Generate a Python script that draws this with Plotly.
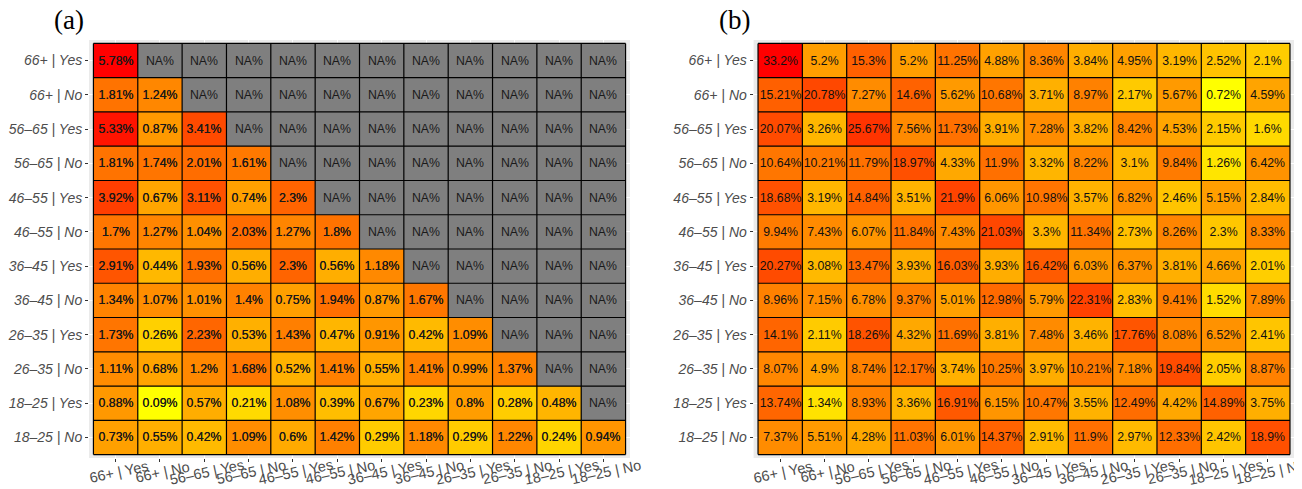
import numpy as np
import plotly.graph_objects as go

categories = ["66+ | Yes", "66+ | No", "56–65 | Yes", "56–65 | No", "46–55 | Yes", "46–55 | No",
              "36–45 | Yes", "36–45 | No", "26–35 | Yes", "26–35 | No", "18–25 | Yes", "18–25 | No"]

# rows top -> bottom follow the category order, columns left -> right too
values_a = [
    [5.78, None, None, None, None, None, None, None, None, None, None, None],
    [1.81, 1.24, None, None, None, None, None, None, None, None, None, None],
    [5.33, 0.87, 3.41, None, None, None, None, None, None, None, None, None],
    [1.81, 1.74, 2.01, 1.61, None, None, None, None, None, None, None, None],
    [3.92, 0.67, 3.11, 0.74, 2.3, None, None, None, None, None, None, None],
    [1.7, 1.27, 1.04, 2.03, 1.27, 1.8, None, None, None, None, None, None],
    [2.91, 0.44, 1.93, 0.56, 2.3, 0.56, 1.18, None, None, None, None, None],
    [1.34, 1.07, 1.01, 1.4, 0.75, 1.94, 0.87, 1.67, None, None, None, None],
    [1.73, 0.26, 2.23, 0.53, 1.43, 0.47, 0.91, 0.42, 1.09, None, None, None],
    [1.11, 0.68, 1.2, 1.68, 0.52, 1.41, 0.55, 1.41, 0.99, 1.37, None, None],
    [0.88, 0.09, 0.57, 0.21, 1.08, 0.39, 0.67, 0.23, 0.8, 0.28, 0.48, None],
    [0.73, 0.55, 0.42, 1.09, 0.6, 1.42, 0.29, 1.18, 0.29, 1.22, 0.24, 0.94],
]

values_b = [
    [33.2, 5.2, 15.3, 5.2, 11.25, 4.88, 8.36, 3.84, 4.95, 3.19, 2.52, 2.1],
    [15.21, 20.78, 7.27, 14.6, 5.62, 10.68, 3.71, 8.97, 2.17, 5.67, 0.72, 4.59],
    [20.07, 3.26, 25.67, 7.56, 11.73, 3.91, 7.28, 3.82, 8.42, 4.53, 2.15, 1.6],
    [10.64, 10.21, 11.79, 18.97, 4.33, 11.9, 3.32, 8.22, 3.1, 9.84, 1.26, 6.42],
    [18.68, 3.19, 14.84, 3.51, 21.9, 6.06, 10.98, 3.57, 6.82, 2.46, 5.15, 2.84],
    [9.94, 7.43, 6.07, 11.84, 7.43, 21.03, 3.3, 11.34, 2.73, 8.26, 2.3, 8.33],
    [20.27, 3.08, 13.47, 3.93, 16.03, 3.93, 16.42, 6.03, 6.37, 3.81, 4.66, 2.01],
    [8.96, 7.15, 6.78, 9.37, 5.01, 12.98, 5.79, 22.31, 2.83, 9.41, 1.52, 7.89],
    [14.1, 2.11, 18.26, 4.32, 11.69, 3.81, 7.48, 3.46, 17.76, 8.08, 6.52, 2.41],
    [8.07, 4.9, 8.74, 12.17, 3.74, 10.25, 3.97, 10.21, 7.18, 19.84, 2.05, 8.87],
    [13.74, 1.34, 8.93, 3.36, 16.91, 6.15, 10.47, 3.55, 12.49, 4.42, 14.89, 3.75],
    [7.37, 5.51, 4.28, 11.03, 6.01, 14.37, 2.91, 11.9, 2.97, 12.33, 2.42, 18.9],
]

panel_titles = ["(a)", "(b)"]

# the page body adds an 8px margin, so the figure is 8px smaller and positions are shifted
OFF = 8
W, H = 1302 - OFF, 489 - OFF


def px_x(v):
    return (v - OFF) / W


def px_y(v):
    return 1 - (v - OFF) / H


# ---------- yellow -> red gradient interpolated in CIELAB (like ggplot) ----------
def srgb_to_lab(rgb):
    c = np.array(rgb, dtype=float) / 255.0
    c = np.where(c <= 0.04045, c / 12.92, ((c + 0.055) / 1.055) ** 2.4)
    M = np.array([[0.4124, 0.3576, 0.1805], [0.2126, 0.7152, 0.0722], [0.0193, 0.1192, 0.9505]])
    xyz = M @ c
    xyz = xyz / np.array([0.95047, 1.0, 1.08883])
    f = np.where(xyz > 0.008856, np.cbrt(xyz), 7.787 * xyz + 16 / 116)
    return np.array([116 * f[1] - 16, 500 * (f[0] - f[1]), 200 * (f[1] - f[2])])


def lab_to_srgb(lab):
    L, a, b = lab
    fy = (L + 16) / 116
    fx = fy + a / 500
    fz = fy - b / 200
    f = np.array([fx, fy, fz])
    xyz = np.where(f > 0.2069, f ** 3, (f - 16 / 116) / 7.787)
    xyz = xyz * np.array([0.95047, 1.0, 1.08883])
    Minv = np.array([[3.2406, -1.5372, -0.4986], [-0.9689, 1.8758, 0.0415], [0.0557, -0.2040, 1.0570]])
    c = Minv @ xyz
    c = np.clip(c, 0, 1)
    c = np.where(c <= 0.0031308, 12.92 * c, 1.055 * c ** (1 / 2.4) - 0.055)
    return tuple(int(round(v * 255)) for v in np.clip(c, 0, 1))


lab_lo = srgb_to_lab((255, 255, 0))
lab_hi = srgb_to_lab((255, 0, 0))
colorscale = []
for t in np.linspace(0, 1, 31):
    r, g, b = lab_to_srgb(lab_lo + t * (lab_hi - lab_lo))
    colorscale.append([float(t), f"rgb({r},{g},{b})"])

NA_GREY = "#7F7F7F"
PANEL_BG = "#EBEBEB"
LABEL_COL = "#4D4D4D"
SANS = "Liberation Sans, Arial, sans-serif"

# page-pixel layout of the two panels (grey panel area)
panel_x = [(89, 630), (753.6, 1294.4)]
panel_y = (40, 458)

fig = go.Figure()
n = len(categories)
shapes = []
annotations = []

for p, vals in enumerate([values_a, values_b]):
    arr = np.array([[np.nan if v is None else v for v in row] for row in vals], dtype=float)
    xa = "x" if p == 0 else "x2"
    ya = "y" if p == 0 else "y2"
    logz = np.log(arr)
    txt = [[("NA%" if v is None else f"{v:g}%") for v in row] for row in vals]
    fig.add_trace(go.Heatmap(
        z=logz, x=categories, y=categories, text=txt, texttemplate="%{text}",
        textfont=dict(family=SANS, size=12.3, color="#111111"),
        colorscale=colorscale, zmin=np.nanmin(logz), zmax=np.nanmax(logz),
        showscale=False, xaxis=xa, yaxis=ya, hoverinfo="skip"))
    na_mask = np.where(np.isnan(arr), 1.0, np.nan)
    fig.add_trace(go.Heatmap(
        z=na_mask, x=categories, y=categories, text=txt, texttemplate="%{text}",
        textfont=dict(family=SANS, size=12.3, color="#1A1A1A"),
        colorscale=[[0, NA_GREY], [1, NA_GREY]], zmin=0, zmax=1,
        showscale=False, xaxis=xa, yaxis=ya, hoverinfo="skip"))

    # tile borders
    for i in range(n + 1):
        shapes.append(dict(type="line", xref=xa, yref=ya, x0=i - 0.5, x1=i - 0.5, y0=-0.5, y1=n - 0.5,
                           line=dict(color="black", width=1.2), layer="above"))
        shapes.append(dict(type="line", xref=xa, yref=ya, y0=i - 0.5, y1=i - 0.5, x0=-0.5, x1=n - 0.5,
                           line=dict(color="black", width=1.2), layer="above"))

    # rotated x labels
    for i, c in enumerate(categories):
        annotations.append(dict(text=c, x=i, xref=xa, y=px_y(472), yref="paper",
                                xanchor="center", yanchor="middle", xshift=3, textangle=-12,
                                showarrow=False,
                                font=dict(family=SANS, size=14.5, color=LABEL_COL)))
    # panel titles
    tx = [69, 734][p]
    annotations.append(dict(text=panel_titles[p], x=px_x(tx), xref="paper", y=px_y(20), yref="paper",
                            xanchor="center", yanchor="middle", showarrow=False,
                            font=dict(family="Liberation Serif, Times New Roman, serif", size=27, color="black")))

common_x = dict(type="category", categoryorder="array", categoryarray=categories, range=[-0.6, n - 0.4],
                showgrid=True, gridcolor="white", gridwidth=1, zeroline=False, showline=False,
                ticks="outside", ticklen=3, tickwidth=1, tickcolor="#333333", showticklabels=False,
                automargin=False, fixedrange=True)
common_y = dict(type="category", categoryorder="array", categoryarray=categories, range=[n - 0.4, -0.6],
                showgrid=True, gridcolor="white", gridwidth=1, zeroline=False, showline=False,
                ticks="outside", ticklen=3, tickwidth=1, tickcolor="#333333", showticklabels=True,
                tickfont=dict(family=SANS, size=14, color=LABEL_COL, style="italic"),
                automargin=False, fixedrange=True)

ydom = [px_y(panel_y[1]), px_y(panel_y[0])]
fig.update_layout(
    width=W, height=H, template="none",
    margin=dict(l=0, r=0, t=0, b=0),
    paper_bgcolor="white", plot_bgcolor=PANEL_BG,
    xaxis=dict(common_x, domain=[px_x(panel_x[0][0]), px_x(panel_x[0][1])], anchor="y"),
    yaxis=dict(common_y, domain=ydom, anchor="x"),
    xaxis2=dict(common_x, domain=[px_x(panel_x[1][0]), min(1.0, px_x(panel_x[1][1]))], anchor="y2"),
    yaxis2=dict(common_y, domain=ydom, anchor="x2"),
    shapes=shapes, annotations=annotations, showlegend=False,
)

fig.write_html("out.html")
